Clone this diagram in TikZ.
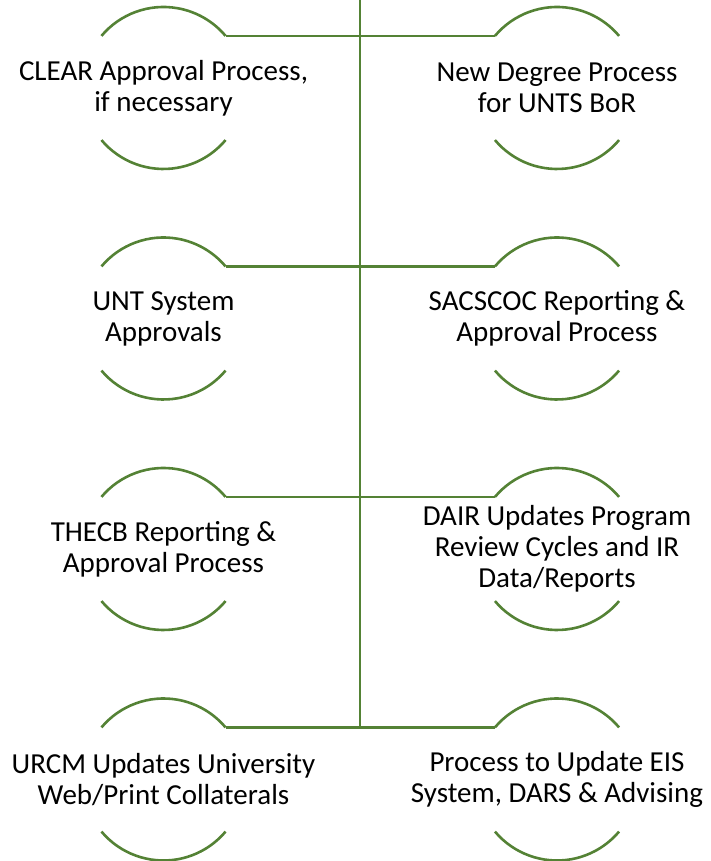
\documentclass[tikz,border=0pt]{standalone}
\usepackage{fontspec}
\setmainfont{Carlito}
\definecolor{lngreen}{RGB}{84,130,53}
\begin{document}
\begin{tikzpicture}[x=1pt,y=1pt,
  ring/.style={circle, minimum size=162pt, inner sep=0pt, outer sep=0pt, draw=none},
  lbl/.style={align=center, inner sep=0pt, font=\fontsize{29}{31}\selectfont},
  gline/.style={draw=lngreen, line width=2.6pt}]
\useasboundingbox (0,0) rectangle (710,861);
% circles (invisible anchors)
\node[ring] (cL1) at (163.5,773) {};
\node[ring] (cR1) at (557,773) {};
\node[ring] (cL2) at (163.5,542.5) {};
\node[ring] (cR2) at (557,542.5) {};
\node[ring] (cL3) at (163.5,312) {};
\node[ring] (cR3) at (557,312) {};
\node[ring] (cL4) at (163.5,81.5) {};
\node[ring] (cR4) at (557,81.5) {};
% spine
\coordinate (top) at (360,861);
\coordinate (bot) at (360,133);
\draw[gline] (top) -- (bot);
% arcs and connectors
\foreach \n in {cL1,cR1,cL2,cR2,cL3,cR3,cL4,cR4}{
  \draw[gline] (\n.140) arc[start angle=140, end angle=40, radius=81pt];
  \draw[gline] (\n.220) arc[start angle=220, end angle=320, radius=81pt];
}
\foreach \n in {cL1,cL2,cL3,cL4}{
  \draw[gline] (\n.40) -- (\n.40 -| top);
}
\foreach \n in {cR1,cR2,cR3,cR4}{
  \draw[gline] (\n.140) -- (\n.140 -| top);
}
% labels
\node[lbl] (tL1) at (cL1.center) {CLEAR Approval Process,\\if necessary};
\node[lbl] (tR1) at (cR1.center) {New Degree Process\\for UNTS BoR};
\node[lbl] (tL2) at (cL2.center) {UNT System\\Approvals};
\node[lbl] (tR2) at (cR2.center) {SACSCOC Reporting \&\\Approval Process};
\node[lbl] (tL3) at (cL3.center) {THECB Reporting \&\\Approval Process};
\node[lbl] (tR3) at (cR3.center) {DAIR Updates Program\\Review Cycles and IR\\Data/Reports};
\node[lbl] (tL4) at (cL4.center) {URCM Updates University\\Web/Print Collaterals};
\node[lbl] (tR4) at (cR4.center) {Process to Update EIS\\System, DARS \& Advising};
\end{tikzpicture}
\end{document}
